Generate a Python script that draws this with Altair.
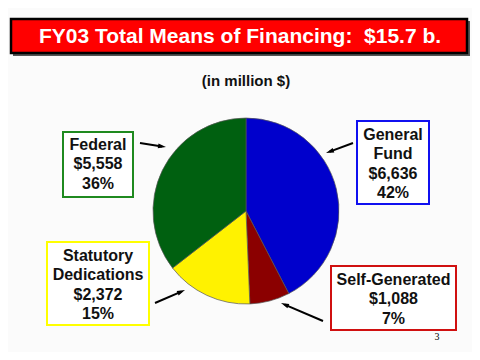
import math
import altair as alt
import pandas as pd

# ---- data ----
categories = ["General Fund", "Self-Generated", "Statutory Dedications", "Federal"]
label_lines = [["General", "Fund"], ["Self-Generated"], ["Statutory", "Dedications"], ["Federal"]]
amounts = [6636, 1088, 2372, 5558]
amount_labels = ["$6,636", "$1,088", "$2,372", "$5,558"]
percent_labels = ["42%", "7%", "15%", "36%"]
slice_colors = ["#0000CC", "#8B0000", "#FFF200", "#006010"]
box_colors = ["#1010F0", "#D01010", "#FFFF00", "#1F8A1F"]
title_text = "FY03 Total Means of Financing:\u00a0 $15.7 b."
subtitle_text = "(in million $)"
page_number = "3"

# ---- layout (page pixels) ----
O = 8  # page margin
box_rects = [(357, 121, 429, 204), (331, 266, 456, 330), (47, 242, 149, 325), (63, 132, 133, 197)]
text_first_y = [135, 280, 256, 145]
line_h = 19.3
arrows = [((353, 143), (326, 153)), ((323, 321), (281, 303)),
          ((155, 303), (185, 290)), ((140, 143), (166, 147))]
FONT = "Liberation Sans"

# ---- pie ----
pie_df = pd.DataFrame({"category": categories, "amount": amounts, "order": range(len(categories))})
pie = alt.Chart(pie_df).mark_arc(radius=93, stroke="#555555", strokeWidth=0.7).encode(
    theta=alt.Theta("amount:Q", stack=True),
    order=alt.Order("order:Q"),
    color=alt.Color("category:N", scale=alt.Scale(domain=categories, range=slice_colors), legend=None),
    x=alt.value(246 - O),
    y=alt.value(211 - O),
)

# ---- label boxes ----
box_df = pd.DataFrame({
    "x": [b[0] - O for b in box_rects], "y": [b[1] - O for b in box_rects],
    "x2": [b[2] - O for b in box_rects], "y2": [b[3] - O for b in box_rects],
    "stroke": box_colors,
})
boxes = alt.Chart(box_df).mark_rect(fill="white", strokeWidth=2).encode(
    x=alt.X("x:Q", scale=None, axis=None), x2="x2:Q",
    y=alt.Y("y:Q", scale=None, axis=None), y2="y2:Q",
    stroke=alt.Stroke("stroke:N", scale=None),
)

rows = []
for i in range(len(categories)):
    lines = label_lines[i] + [amount_labels[i], percent_labels[i]]
    cx = (box_rects[i][0] + box_rects[i][2]) / 2 - O
    for j, t in enumerate(lines):
        rows.append({"x": cx, "y": text_first_y[i] + j * line_h - O, "text": t})
text_df = pd.DataFrame(rows)
labels = alt.Chart(text_df).mark_text(font=FONT, fontWeight="bold", fontSize=16,
                                      align="center", baseline="middle", color="#111111").encode(
    x=alt.X("x:Q", scale=None, axis=None), y=alt.Y("y:Q", scale=None, axis=None), text="text:N")

# ---- arrows ----
arow, hrow = [], []
for (tx, ty), (hx, hy) in arrows:
    dx, dy = hx - tx, hy - ty
    L = math.hypot(dx, dy)
    ux, uy = dx / L, dy / L
    arow.append({"x": tx - O, "y": ty - O, "x2": hx - 4 * ux - O, "y2": hy - 4 * uy - O})
    hrow.append({"x": hx - 4 * ux - O, "y": hy - 4 * uy - O,
                 "angle": math.degrees(math.atan2(dx, -dy)) % 360})
shafts = alt.Chart(pd.DataFrame(arow)).mark_rule(color="black", strokeWidth=2).encode(
    x=alt.X("x:Q", scale=None, axis=None), x2="x2:Q",
    y=alt.Y("y:Q", scale=None, axis=None), y2="y2:Q")
heads = alt.Chart(pd.DataFrame(hrow)).mark_point(
    shape="M0,-1L0.6,1L-0.6,1Z", filled=True, size=64, color="black", opacity=1).encode(
    x=alt.X("x:Q", scale=None, axis=None), y=alt.Y("y:Q", scale=None, axis=None),
    angle=alt.Angle("angle:Q", scale=None))

# ---- title block ----
one = pd.DataFrame({"a": [0]})
title_shadow = alt.Chart(one).mark_rect(fill="#555555").encode(
    x=alt.value(13 - O), x2=alt.value(470 - O), y=alt.value(21 - O), y2=alt.value(56 - O))
title_box = alt.Chart(one).mark_rect(fill="#FF0000", stroke="black", strokeWidth=2.5).encode(
    x=alt.value(11 - O), x2=alt.value(467 - O), y=alt.value(19 - O), y2=alt.value(53 - O))
title = alt.Chart(one).mark_text(text=title_text, font=FONT, fontWeight="bold", fontSize=21,
                                 color="white", align="center", baseline="middle").encode(
    x=alt.value(240 - O), y=alt.value(37 - O))
subtitle = alt.Chart(one).mark_text(text=subtitle_text, font=FONT, fontWeight="bold", fontSize=15,
                                    color="#111111", align="center", baseline="middle").encode(
    x=alt.value(246 - O), y=alt.value(81 - O))
pnum = alt.Chart(one).mark_text(text=page_number, font="Liberation Serif", fontSize=10,
                                color="black", align="center", baseline="middle").encode(
    x=alt.value(437 - O), y=alt.value(337 - O))

chart = alt.layer(title_shadow, title_box, title, subtitle, pie, shafts, heads, boxes, labels, pnum).properties(
    width=464, height=344, padding=0, autosize=alt.AutoSizeParams(type="none"),
    background="#FBFBFB",
).configure_view(stroke=None)

chart.save("out.html", embed_options={"renderer": "svg", "actions": False})
